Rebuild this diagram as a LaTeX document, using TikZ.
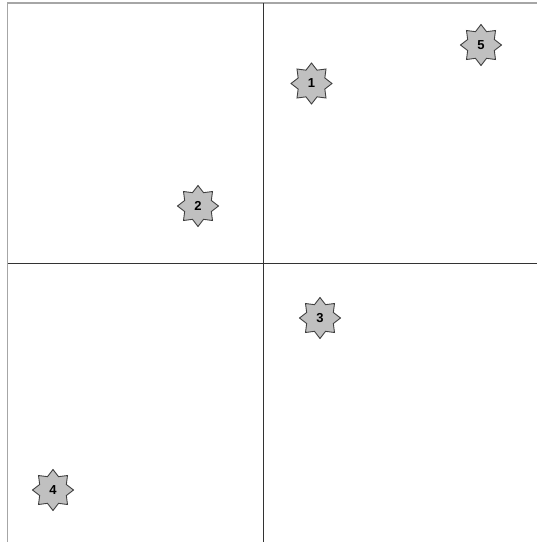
\documentclass[tikz,border=0pt]{standalone}
\usepackage{fontspec}
\setmainfont{Liberation Sans}
\usetikzlibrary{shapes.geometric}
\begin{document}
\begin{tikzpicture}[x=1pt,y=-1pt,
  starnode/.style={star, star points=8, star point ratio=1.42, minimum size=41pt,
    inner sep=0pt, draw=black!75, line width=0.9pt, fill={rgb,255:red,192;green,192;blue,192},
    font=\bfseries\fontsize{13}{13}\selectfont},
  gridline/.style={line width=1.4pt, draw=black!80},
  frameline/.style={line width=1.2pt, draw=black!35}]
\useasboundingbox (0,0) rectangle (537,542);
\coordinate (tl) at (7.5,3);
\coordinate (tr) at (537,3);
\coordinate (bl) at (7.5,542);
\coordinate (vt) at (263.5,3);
\coordinate (vb) at (263.5,542);
\coordinate (hl) at (7.5,263.5);
\coordinate (hr) at (537,263.5);
\draw[frameline] (bl) -- (tl) -- (tr);
\draw[gridline] (vt) -- (vb);
\draw[gridline] (hl) -- (hr);
\node[starnode] (s1) at (311.5,83.5) {1};
\node[starnode] (s5) at (481,45) {5};
\node[starnode] (s2) at (198,206) {2};
\node[starnode] (s3) at (320,318) {3};
\node[starnode] (s4) at (53,490) {4};
\end{tikzpicture}
\end{document}
